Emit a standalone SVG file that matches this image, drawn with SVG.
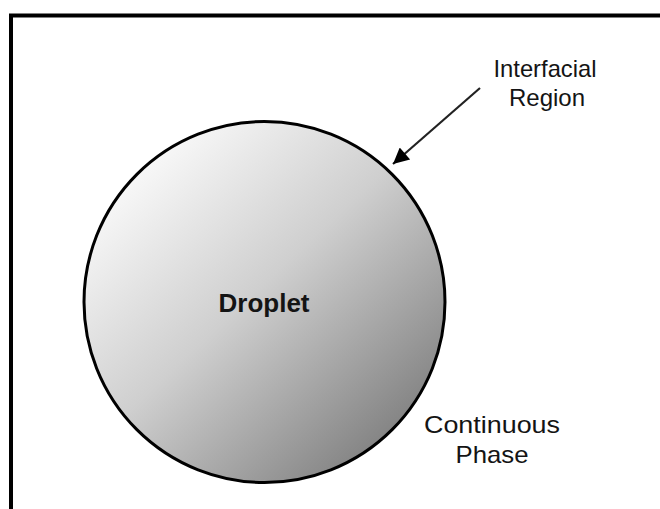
<svg xmlns="http://www.w3.org/2000/svg" width="660" height="509" viewBox="0 0 660 509">
  <defs>
    <linearGradient id="dropFill" x1="0.15" y1="0.1" x2="0.9" y2="0.9">
      <stop offset="0" stop-color="#fafafa"/>
      <stop offset="0.45" stop-color="#cfcfcf"/>
      <stop offset="1" stop-color="#7c7c7c"/>
    </linearGradient>
    <marker id="arrowHead" viewBox="0 0 10 10" refX="10" refY="5" markerWidth="9" markerHeight="7.2" markerUnits="strokeWidth" orient="auto">
      <path d="M0,0 L10,5 L0,10 Z" fill="#000"/>
    </marker>
    <style>
      .label { font-family: "Liberation Sans", Arial, sans-serif; font-size: 24px; fill: #141414; text-anchor: middle; }
      .bold { font-weight: bold; font-size: 26px; }
      .frame { fill: none; stroke: #000; stroke-width: 4; }
      .connector { stroke: #222; stroke-width: 2.2; fill: none; }
    </style>
  </defs>

  <rect width="660" height="509" fill="#fff"/>

  <!-- outer frame (continues past the right and bottom edges) -->
  <path class="frame" d="M11,515 V15.5 H665"/>

  <g id="droplet">
    <circle cx="264.5" cy="302" r="180.5" fill="url(#dropFill)" stroke="#000" stroke-width="3"/>
    <text class="label bold" x="264" y="312">Droplet</text>
  </g>

  <g id="interfacial-region">
    <text class="label" x="545" y="77" textLength="103" lengthAdjust="spacingAndGlyphs">Interfacial</text>
    <text class="label" x="547" y="106">Region</text>
  </g>

  <g id="continuous-phase">
    <text class="label" x="492" y="433" textLength="136" lengthAdjust="spacingAndGlyphs">Continuous</text>
    <text class="label" x="492" y="463" textLength="73" lengthAdjust="spacingAndGlyphs">Phase</text>
  </g>

  <g id="connectors">
    <line class="connector" x1="480" y1="88" x2="393" y2="164" marker-end="url(#arrowHead)"/>
  </g>
</svg>
